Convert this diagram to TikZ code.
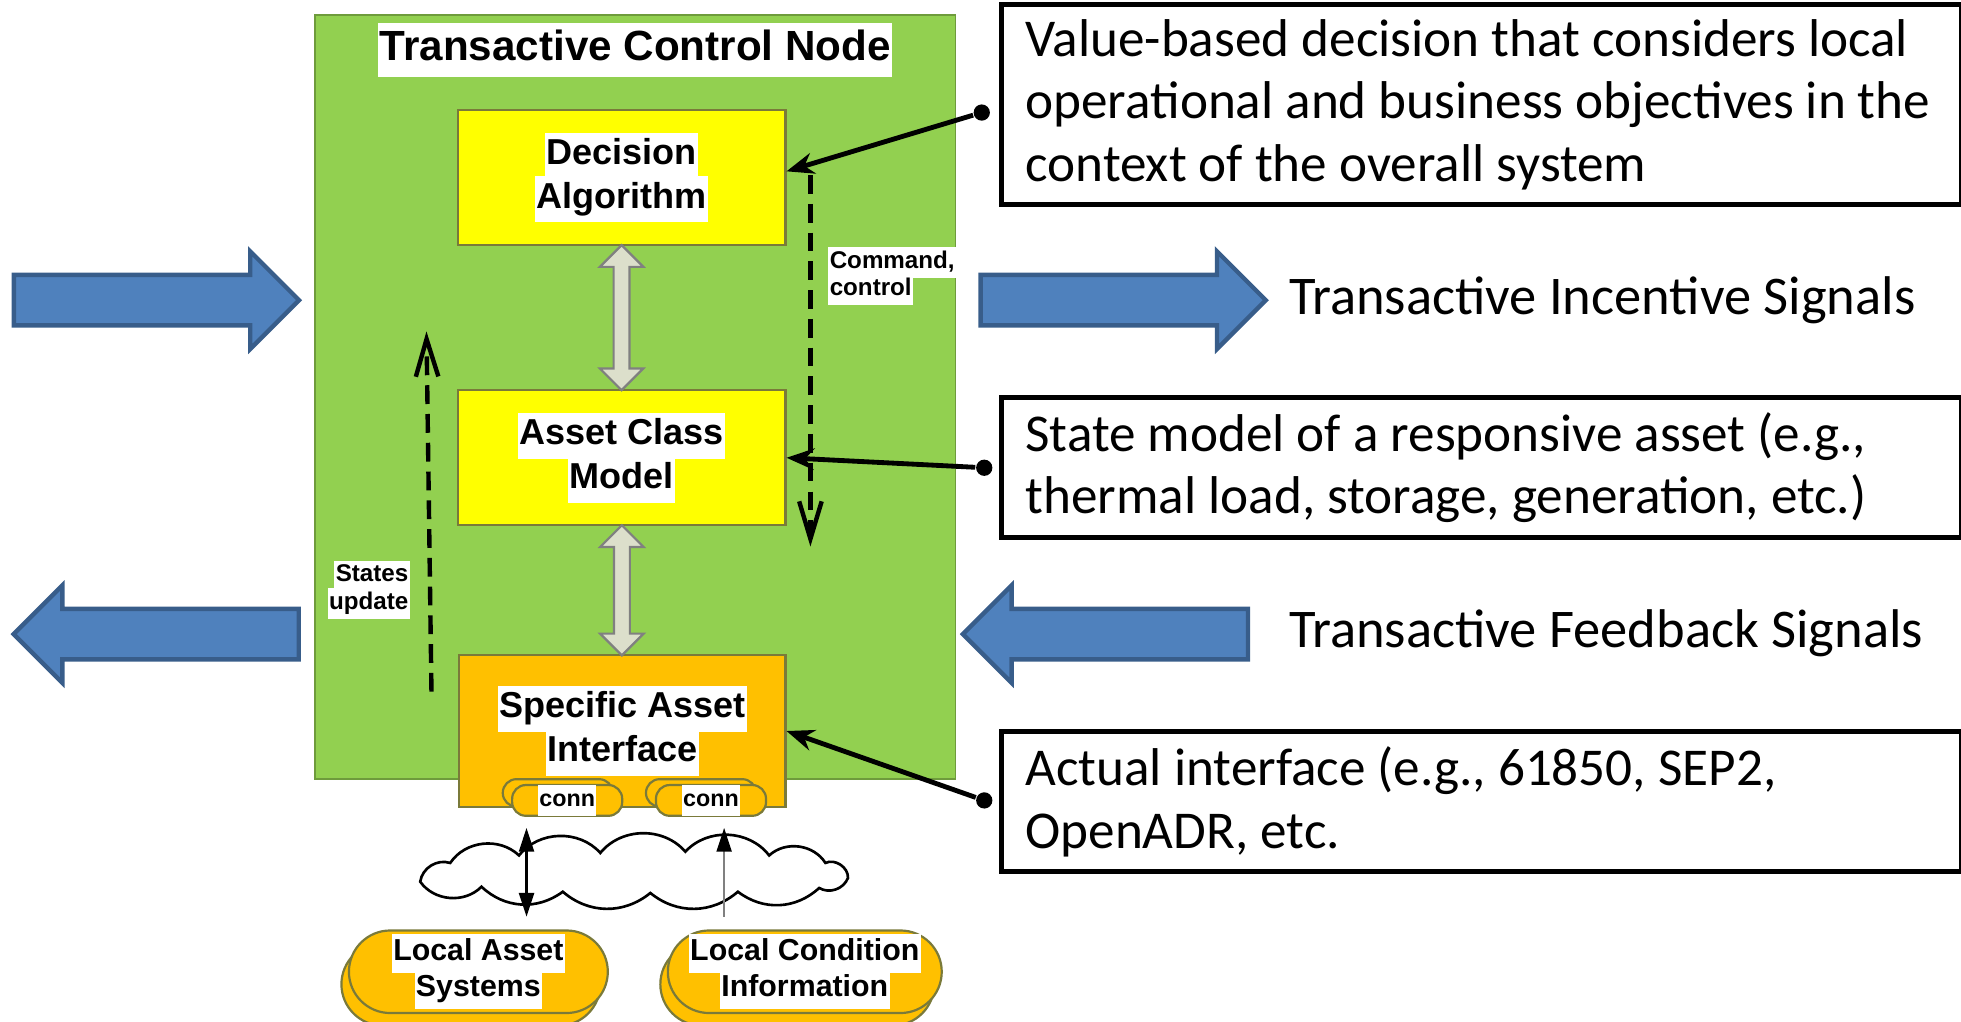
\documentclass[tikz,border=0pt]{standalone}
\usepackage{fontspec}
\usetikzlibrary{positioning,calc,shapes.arrows,arrows.meta}
\newfontfamily\arialfont{Liberation Sans}
\newfontfamily\calfont{Carlito}
\definecolor{nodegreen}{HTML}{92D050}
\definecolor{nodegreenedge}{HTML}{6E9B3C}
\definecolor{algoyellow}{HTML}{FFFF00}
\definecolor{assetorange}{HTML}{FFC000}
\definecolor{boxedge}{HTML}{7A7A3A}
\definecolor{sigblue}{HTML}{4F81BD}
\definecolor{sigblueedge}{HTML}{385D8A}
\definecolor{linkgrey}{HTML}{DCDFCB}
\newcommand{\wbg}[1]{{\setlength{\fboxsep}{0.3pt}\colorbox{white}{\strut #1}}}
\newcommand{\lbl}[2]{\arialfont\bfseries\fontsize{#1}{#2}\selectfont\lineskiplimit=-10pt}
\newcommand{\ctext}{\calfont\fontsize{12.1}{14.2}\selectfont}

\begin{document}
\begin{tikzpicture}[x=1cm, y=-1cm,
  block/.style={draw=boxedge, line width=0.5pt, minimum width=2.62cm, align=center, inner sep=0pt, font={\lbl{8.2}{9.9}}},
  dblarrow/.style={double arrow, rotate=90, draw=gray, fill=linkgrey, line width=0.5pt, inner sep=0.055cm, minimum width=0.33cm, double arrow head extend=0.11cm},
  flow/.style={dash pattern=on 0.15cm off 0.08cm, line width=1pt, -{Straight Barb[length=0.3cm,width=0.18cm]}},
  connpill/.style={draw=boxedge, fill=assetorange, line width=0.5pt, rounded corners=0.11cm, minimum width=0.88cm, minimum height=0.22cm, inner sep=0pt, font={\lbl{5.3}{6.4}}},
  localpill/.style={draw=boxedge, fill=assetorange, line width=0.5pt, rounded corners=0.33cm, minimum height=0.66cm, inner sep=0pt, align=center, font={\lbl{6.9}{8.2}}},
  sigarrow/.style={single arrow, draw=sigblueedge, fill=sigblue, line width=1pt, inner sep=0.165cm, minimum width=0.78cm, single arrow head extend=0.17cm, minimum height=2.28cm},
  callout/.style={draw=black, fill=white, line width=1.1pt, anchor=west, text width=7.29cm, align=flush left, inner xsep=0.19cm, font=\ctext},
  dot/.style={circle, fill=black, inner sep=0pt, minimum size=0.13cm},
  pointer/.style={-{Stealth[length=0.22cm,width=0.17cm]}, line width=1.1pt},
  wire/.style={line width=0.5pt}]
\useasboundingbox (0,0) rectangle (15.68,8.17);

\node[draw=nodegreenedge, fill=nodegreen, minimum width=5.12cm, minimum height=6.11cm, inner sep=0pt] (tcn) at (5.08,3.175) {};
\node[font={\lbl{9.6}{11.5}}] (title) at (5.08,0.40) {\wbg{Transactive Control Node}};

\node[block, fill=algoyellow, minimum height=1.08cm] (dec) at (4.97,1.42) {\wbg{Decision}\\\wbg{Algorithm}};
\node[block, fill=algoyellow, minimum height=1.08cm] (acm) at (4.97,3.66) {\wbg{Asset Class}\\\wbg{Model}};
\node[block, fill=assetorange, minimum height=1.21cm, minimum width=2.61cm] (sai) at (4.975,5.845) {\wbg{Specific Asset}\\\wbg{Interface}};

\node[dblarrow, minimum height=1.16cm] (da1) at ($(dec.south)!0.5!(acm.north)$) {};
\node[dblarrow, minimum height=1.04cm] (da2) at ($(acm.south)!0.5!(sai.north)$) {};

\coordinate (cmdfrom) at (6.48,1.40);
\coordinate (cmdto) at (6.48,4.37);
\draw[flow] (cmdfrom) -- (cmdto);
\node[anchor=west, align=left, font={\lbl{5.5}{6.3}}] (cmdlbl) at (6.50,2.21) {\wbg{Command,}\\\wbg{control}};
\coordinate (stfrom) at (3.45,5.53);
\coordinate (stto) at (3.41,2.65);
\draw[flow] (stfrom) -- (stto);
\node[anchor=east, align=right, font={\lbl{5.5}{6.3}}] (stlbl) at (3.40,4.715) {\wbg{States}\\\wbg{update}};

\node[connpill] (conn1b) at (4.46,6.34) {};
\node[connpill] (conn1) at (4.535,6.40) {\wbg{conn}};
\node[connpill] (conn2b) at (5.605,6.34) {};
\node[connpill] (conn2) at (5.685,6.40) {\wbg{conn}};

\draw[line width=0.6pt, fill=white] (3.36,7.05) to[bend left=50] (3.60,6.90) to[bend left=50] (4.15,6.84)
  to[bend left=50] (4.80,6.82) to[bend left=50] (5.48,6.81) to[bend left=50] (6.15,6.84)
  to[bend left=50] (6.60,6.90) to[bend left=60] (6.78,7.02) to[bend left=50] (6.55,7.10)
  to[bend left=40] (5.90,7.13) to[bend left=40] (5.20,7.14) to[bend left=40] (4.50,7.13)
  to[bend left=40] (3.85,7.09) to[bend left=50] cycle;

\node[localpill, minimum width=2.07cm] (lasb) at (3.765,7.87) {};
\node[localpill, minimum width=2.07cm] (las) at (3.825,7.77) {\wbg{Local Asset}\\\wbg{Systems}};
\node[localpill, minimum width=2.19cm] (lcib) at (6.375,7.87) {};
\node[localpill, minimum width=2.19cm] (lci) at (6.435,7.77) {\wbg{Local Condition}\\\wbg{Information}};

\coordinate (lasup) at (4.21,6.62);
\coordinate (lasdn) at (4.21,7.33);
\draw[wire, {Triangle[length=0.19cm,width=0.12cm]}-{Triangle[length=0.19cm,width=0.12cm]}] (lasup) -- (lasdn);
\coordinate (lciup) at (5.79,6.62);
\coordinate (lcidn) at (5.79,7.33);
\draw[wire, gray, -{Triangle[length=0.19cm,width=0.12cm,black]}] (lcidn) -- (lciup);

\node[callout, minimum height=1.57cm] (txtdec) at (7.99,0.835) {Value-based decision that considers local\\operational and business objectives in the\\context of the overall system};
\node[callout, minimum height=1.12cm] (txtacm) at (7.99,3.74) {State model of a responsive asset (e.g.,\\thermal load, storage, generation, etc.)};
\node[callout, minimum height=1.12cm] (txtsai) at (7.99,6.41) {Actual interface (e.g., 61850, SEP2,\\OpenADR, etc.};

\node[dot] (p1) at (7.85,0.90) {};
\node[dot] (p2) at (7.87,3.74) {};
\node[dot] (p3) at (7.87,6.40) {};
\draw[pointer] (p1) -- ($(dec.east)+(0,-0.05)$);
\draw[pointer] (p2) -- (acm.east);
\draw[pointer] (p3) -- (sai.east);

\node[sigarrow] (inL) at (1.15,2.40) {};
\node[sigarrow, shape border rotate=180] (outL) at (1.35,5.07) {};
\node[sigarrow] (outR) at (8.88,2.40) {};
\node[sigarrow, shape border rotate=180] (inR) at (8.94,5.07) {};
\node[anchor=west, inner xsep=0pt, font={\calfont\fontsize{12.4}{14.2}\selectfont}] (inctxt) at (10.30,2.40) {Transactive Incentive Signals};
\node[anchor=west, inner xsep=0pt, font={\calfont\fontsize{12.4}{14.2}\selectfont}] (fbtxt) at (10.30,5.06) {Transactive Feedback Signals};
\end{tikzpicture}
\end{document}
